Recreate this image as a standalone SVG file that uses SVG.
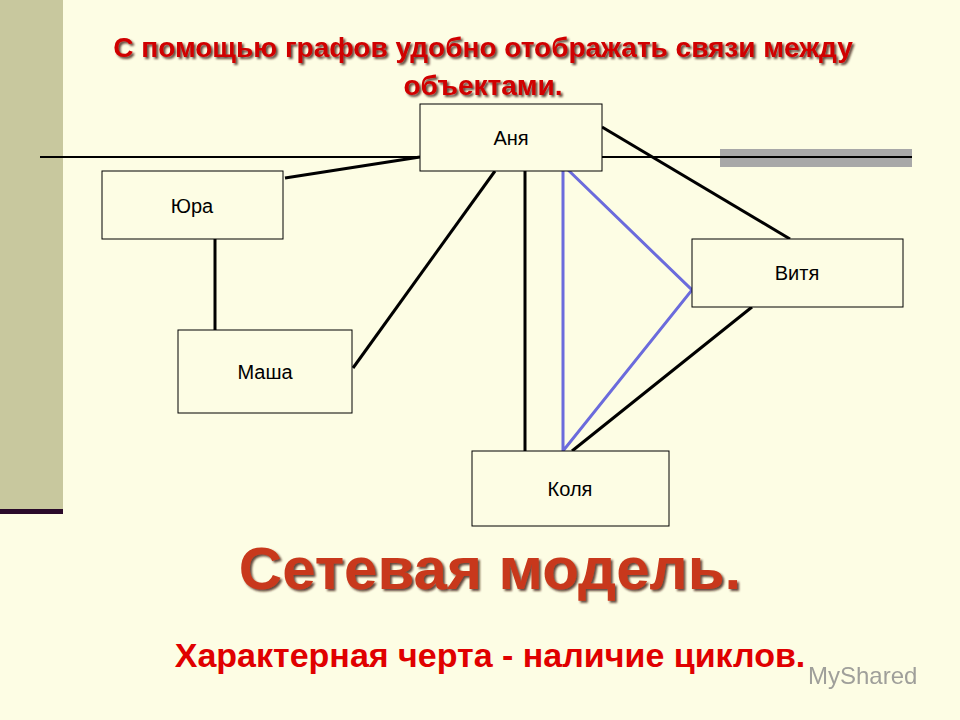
<svg xmlns="http://www.w3.org/2000/svg" width="960" height="720" viewBox="0 0 960 720">
<defs>
<style>
.box{fill:#fdfde4;stroke:#000;stroke-width:1}
.lbl{font-family:"Liberation Sans",Arial,sans-serif;font-size:20px;fill:#000;text-anchor:middle}
.e{stroke:#000;stroke-width:3;fill:none}
.b{stroke:#6b6bdc;stroke-width:3;fill:none}
.t{font-family:"Liberation Sans",Arial,sans-serif;font-weight:bold;text-anchor:middle}
</style>
<filter id="sh" x="-5%" y="-20%" width="110%" height="140%"><feDropShadow dx="2" dy="2" stdDeviation="1" flood-color="#3a1a10" flood-opacity="0.8"/></filter>
</defs>
<rect width="960" height="720" fill="#fdfde4"/>
<rect x="0" y="0" width="63" height="510" fill="#c8c89e"/>
<rect x="0" y="509" width="63" height="5" fill="#2a0a2a"/>
<rect x="720" y="149" width="192" height="18" fill="#a8a8a8"/>
<g id="connectors">
<line x1="40" y1="157" x2="420" y2="157" stroke="#000" stroke-width="2"/>
<line x1="602" y1="157" x2="912" y2="157" stroke="#000" stroke-width="2"/>
<line class="e" x1="285" y1="178" x2="420" y2="157"/>
<line class="e" x1="215" y1="239" x2="215" y2="330"/>
<line class="e" x1="353" y1="368" x2="495" y2="171"/>
<line class="e" x1="525" y1="171" x2="525" y2="451"/>
<line class="e" x1="602" y1="127" x2="790" y2="239"/>
<line class="e" x1="752" y1="307" x2="572" y2="451"/>
<polyline class="b" points="563,165 692,290 563,451 563,165"/>
</g>
<g id="anya"><rect class="box" x="420" y="104" width="182" height="67"/><text class="lbl" x="511" y="145">Аня</text></g>
<g id="yura"><rect class="box" x="102" y="171" width="181" height="68"/><text class="lbl" x="192" y="213">Юра</text></g>
<g id="masha"><rect class="box" x="178" y="330" width="174" height="83"/><text class="lbl" x="265" y="379">Маша</text></g>
<g id="vitya"><rect class="box" x="692" y="239" width="211" height="68"/><text class="lbl" x="797" y="280">Витя</text></g>
<g id="kolya"><rect class="box" x="472" y="451" width="197" height="75"/><text class="lbl" x="570" y="496">Коля</text></g>
<g filter="url(#sh)">
<text class="t" x="483" y="57" font-size="28" fill="#d00000">С помощью графов  удобно отображать  связи между</text>
<text class="t" x="483" y="95" font-size="28" fill="#d00000">объектами.</text>
<text class="t" x="490" y="589" font-size="60" fill="#c8381a">Сетевая модель.</text>
</g>
<text class="t" x="490" y="667" font-size="34" fill="#e00000">Характерная черта - наличие циклов.</text>
<text x="808" y="684" font-family="Liberation Sans,Arial,sans-serif" font-size="24" fill="#888" opacity="0.8">MyShared</text>
</svg>
